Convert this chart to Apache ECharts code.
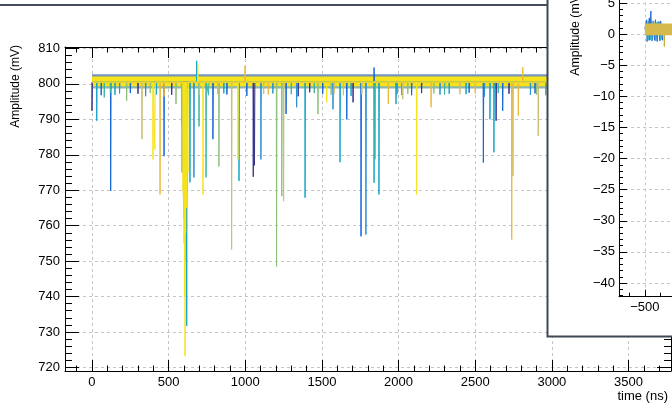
<!DOCTYPE html>
<html><head><meta charset="utf-8">
<script src="https://cdn.jsdelivr.net/npm/echarts@6/dist/echarts.min.js"></script>
<style>html,body{margin:0;padding:0;background:#fff}#c{width:672px;height:408px}</style>
</head><body><div id="c"></div>
<script>
// ---------- tick labels ----------
const xTicks = [0, 500, 1000, 1500, 2000, 2500, 3000, 3500];
const yTicks = [720, 730, 740, 750, 760, 770, 780, 790, 800, 810];
const insetXTicks = [-500, 0, 500];
const insetYTicks = [-40, -35, -30, -25, -20, -15, -10, -5, 0, 5];

// ---------- main panel data (time ns, amplitude mV) ----------
const baseline = 800.5;
const tStart = 0, tEnd = 3700;
const bandFringeTop = [801.9, 802.7];   // upper noise envelope of the waveforms
const bandFringeLow = [798.7, 799.6];   // lower noise envelope of the waveforms
const bandYellow = [799.3, 802.1];      // dense noise of the top-drawn waveform
const spikesNavy = [[0, 792.4], [1052, 773.8], [1060, 777.0], [1345, 796.5], [1703, 794.8], [2636, 789.6], [300, 797.2], [2150, 797.4], [520, 796.9], [1420, 797.6], [2720, 797.2]];
const spikesBlue = [[122, 769.8], [470, 779.6], [789, 784.4], [1266, 791.5], [1662, 790.0], [1755, 757.0], [2460, 797.5], [2553, 777.8], [2679, 792.4], [60, 796.8], [880, 797.0], [1840, 804.6], [250, 797.4], [1010, 796.6], [1505, 797.1], [2085, 796.8], [2890, 797.3]];
const spikesLightBlue = [[665, 773.6], [1102, 778.7], [1335, 793.4], [1572, 792.8], [1787, 757.5], [2270, 797.0], [180, 797.3], [1990, 797.1], [2860, 796.9], [350, 796.5], [1180, 797.3], [2560, 796.4]];
const spikesCyan = [[31, 789.6], [612, 750.0], [618, 731.7], [639, 772.2], [683, 806.5], [959, 772.6], [1390, 767.9], [1618, 777.9], [1840, 772.1], [1872, 768.8], [1983, 794.3], [2596, 790.0], [2622, 780.7], [420, 797.0], [2330, 797.2], [150, 796.9], [860, 797.3], [1690, 796.6], [2440, 797.1]];
const spikesTeal = [[588, 775.0], [600, 762.0], [698, 788.0], [744, 773.6], [1846, 778.7], [2300, 797.0], [120, 797.5], [1450, 797.4], [2960, 796.8], [80, 796.2], [760, 796.8], [1300, 797.1], [2020, 796.9], [2650, 797.4]];
const spikesGreen = [[226, 795.2], [548, 794.3], [585, 788.6], [605, 765.0], [828, 776.7], [1204, 748.5], [1238, 768.3], [1474, 791.5], [2060, 797.2], [2900, 797.0], [380, 797.4], [1560, 796.9], [2230, 797.3]];
const spikesOlive = [[326, 784.4], [911, 753.3], [1250, 766.9], [2027, 795.7], [2746, 774.0], [2911, 785.3], [1580, 797.3], [2400, 797.1], [700, 796.8], [1120, 797.2], [1760, 797.0]];
const spikesGold = [[444, 768.8], [596, 768.0], [998, 805.1], [1933, 794.3], [2212, 793.4], [2738, 756.1], [2781, 791.0], [2810, 804.7], [1150, 797.0], [2500, 797.3], [470, 796.4], [820, 797.1], [1640, 796.8]];
const spikesYellow = [[398, 778.7], [410, 781.5], [594, 770.0], [600, 755.0], [604, 740.0], [607, 723.2], [611, 758.0], [616, 765.0], [626, 775.0], [690, 805.5], [724, 768.8], [952, 778.7], [1531, 794.8], [2118, 768.8]];

// ---------- inset panel data ----------
const insetBaseline = 0.8;
const insetTStart = -500, insetTEnd = 600;
const insetBand = [-0.2, 1.7];
const insetSpikesBlue = [[-488, 2.3], [-470, 2.6], [-460, 3.7], [-445, 2.1], [-430, 2.3], [-412, 2.0], [-395, 2.1], [-485, -1.2], [-468, -1.0], [-452, -1.1], [-436, -1.0], [-418, -1.2], [-400, -1.1], [-382, -1.0]];
const insetSpikesTeal = [[-480, 2.0], [-455, 2.2], [-425, 1.9], [-405, 2.0], [-478, -1.0], [-460, -0.9], [-428, -1.1], [-392, -0.9]];
const insetSpikesGold = [[-371, -2.0], [-440, 2.0]];

// ---------- helpers ----------
const FONT = '"Liberation Sans", Arial, Helvetica, sans-serif';
function spikeLine(spikes, base, t0, t1) {
  const s = spikes.slice().sort((a, b) => a[0] - b[0]);
  const out = [[t0, base]];
  s.forEach(([t, v]) => { out.push([t - 1.5, base], [t, v], [t + 2.5, base]); });
  out.push([t1, base]);
  return out;
}
function range(a, b, step) { const r = []; for (let v = a; v <= b + 1e-9; v += step) r.push(+v.toFixed(6)); return r; }
const xMinor = range(-100, 3700, 100).filter(v => xTicks.indexOf(v) < 0);
const yMinor = range(720, 810, 2).filter(v => yTicks.indexOf(v) < 0);
const insetXMinor = range(-600, 500, 100).filter(v => insetXTicks.indexOf(v) < 0);
const insetYMinor = range(-42, 6, 1).filter(v => insetYTicks.indexOf(v) < 0);
const plain = v => String(v);
const minus = v => (v < 0 ? '\u2212' + Math.abs(v) : String(v));

const BLACK = '#000';
const GRIDLINE = { show: true, lineStyle: { color: '#c4c4c4', width: 1, type: [3, 3] } };

function axis(o) {
  return Object.assign({
    type: 'value', axisLine: { show: false, onZero: false, lineStyle: { color: BLACK, width: 1 } },
    axisLabel: { show: false }, splitLine: { show: false }
  }, o);
}

const MX = [-176, 3777], MY = [719.0, 810.4];
const IX = [-671, 500], IY = [-42.2, 7];

const xAxis = [
  axis({ gridIndex: 0, position: 'bottom', min: MX[0], max: MX[1],
    axisLine: { show: true, onZero: false, lineStyle: { color: BLACK } },
    axisTick: { show: true, inside: true, length: 11, customValues: xTicks, lineStyle: { color: BLACK } },
    axisLabel: { show: true, customValues: xTicks, formatter: plain, color: BLACK, fontSize: 13, fontFamily: FONT, margin: 5 },
    splitLine: GRIDLINE,
    name: 'time (ns)', nameLocation: 'end', nameGap: -3,
    nameTextStyle: { color: BLACK, fontSize: 13, fontFamily: FONT, align: 'right', verticalAlign: 'top', padding: [19, 0, 0, 0] } }),
  axis({ gridIndex: 0, position: 'bottom', min: MX[0], max: MX[1],
    axisTick: { show: true, inside: true, length: 5.5, customValues: xMinor, lineStyle: { color: BLACK } } }),
  axis({ gridIndex: 0, position: 'top', min: MX[0], max: MX[1],
    axisLine: { show: true, onZero: false, lineStyle: { color: BLACK } },
    axisTick: { show: true, inside: true, length: 11, customValues: xTicks, lineStyle: { color: BLACK } } }),
  axis({ gridIndex: 0, position: 'top', min: MX[0], max: MX[1],
    axisTick: { show: true, inside: true, length: 5.5, customValues: xMinor, lineStyle: { color: BLACK } } }),
  axis({ gridIndex: 1, position: 'bottom', min: IX[0], max: IX[1], z: 100,
    axisLine: { show: true, onZero: false, lineStyle: { color: BLACK } },
    axisTick: { show: true, inside: true, length: 7, customValues: insetXTicks, lineStyle: { color: BLACK } },
    axisLabel: { show: true, customValues: insetXTicks, formatter: minus, color: BLACK, fontSize: 13, fontFamily: FONT, margin: 4 },
    splitLine: GRIDLINE }),
  axis({ gridIndex: 1, position: 'bottom', min: IX[0], max: IX[1], z: 100,
    axisTick: { show: true, inside: true, length: 4, customValues: insetXMinor, lineStyle: { color: BLACK } } })
];
const yAxis = [
  axis({ gridIndex: 0, position: 'left', min: MY[0], max: MY[1],
    axisLine: { show: true, onZero: false, lineStyle: { color: BLACK } },
    axisTick: { show: true, inside: true, length: 14, customValues: yTicks, lineStyle: { color: BLACK } },
    axisLabel: { show: true, customValues: yTicks, formatter: plain, color: BLACK, fontSize: 13, fontFamily: FONT, margin: 5 },
    splitLine: GRIDLINE }),
  axis({ gridIndex: 0, position: 'left', min: MY[0], max: MY[1],
    axisTick: { show: true, inside: true, length: 7, customValues: yMinor, lineStyle: { color: BLACK } } }),
  axis({ gridIndex: 0, position: 'right', min: MY[0], max: MY[1],
    axisLine: { show: true, onZero: false, lineStyle: { color: BLACK } },
    axisTick: { show: true, inside: true, length: 14, customValues: yTicks, lineStyle: { color: BLACK } } }),
  axis({ gridIndex: 0, position: 'right', min: MY[0], max: MY[1],
    axisTick: { show: true, inside: true, length: 7, customValues: yMinor, lineStyle: { color: BLACK } } }),
  axis({ gridIndex: 1, position: 'left', min: IY[0], max: IY[1], z: 100,
    axisLine: { show: true, onZero: false, lineStyle: { color: BLACK } },
    axisTick: { show: true, inside: true, length: 8, customValues: insetYTicks, lineStyle: { color: BLACK } },
    axisLabel: { show: true, customValues: insetYTicks, formatter: minus, color: BLACK, fontSize: 13, fontFamily: FONT, margin: 4 },
    splitLine: GRIDLINE }),
  axis({ gridIndex: 1, position: 'left', min: IY[0], max: IY[1], z: 100,
    axisTick: { show: true, inside: true, length: 4, customValues: insetYMinor, lineStyle: { color: BLACK } } })
];

function lineSeries(data, color, xi, yi, z) {
  return { type: 'line', data, xAxisIndex: xi, yAxisIndex: yi, z: z, symbol: 'none', silent: true,
    animation: false, lineStyle: { color, width: 1 } };
}
function bandSeries(lohi, color, t0, t1, xi, yi, z) {
  return { type: 'line', data: [[t0, lohi[1]], [t1, lohi[1]]], xAxisIndex: xi, yAxisIndex: yi, z: z,
    symbol: 'none', silent: true, animation: false, lineStyle: { width: 0, color },
    areaStyle: { color, opacity: 1, origin: lohi[0] } };
}

const mainColors = {
  navy: '#37338c', blue: '#1466d6', lightBlue: '#2a8fd6', cyan: '#14a5c8',
  teal: '#38b5a0', green: '#8cc07a', olive: '#c9be70', gold: '#ebba3a', yellow: '#f7e31a'
};

const series = [
  bandSeries(bandFringeTop, '#7596b8', tStart, tEnd, 0, 0, 2),
  bandSeries(bandFringeLow, '#8ab6ae', tStart, tEnd, 0, 0, 2),
  lineSeries(spikeLine(spikesNavy, baseline, tStart, tEnd), mainColors.navy, 0, 0, 2),
  lineSeries(spikeLine(spikesBlue, baseline, tStart, tEnd), mainColors.blue, 0, 0, 2),
  lineSeries(spikeLine(spikesLightBlue, baseline, tStart, tEnd), mainColors.lightBlue, 0, 0, 2),
  lineSeries(spikeLine(spikesCyan, baseline, tStart, tEnd), mainColors.cyan, 0, 0, 2),
  lineSeries(spikeLine(spikesTeal, baseline, tStart, tEnd), mainColors.teal, 0, 0, 2),
  lineSeries(spikeLine(spikesGreen, baseline, tStart, tEnd), mainColors.green, 0, 0, 2),
  lineSeries(spikeLine(spikesOlive, baseline, tStart, tEnd), mainColors.olive, 0, 0, 2),
  lineSeries(spikeLine(spikesGold, baseline, tStart, tEnd), mainColors.gold, 0, 0, 2),
  bandSeries(bandYellow, mainColors.yellow, tStart, tEnd, 0, 0, 2),
  lineSeries(spikeLine(spikesYellow, baseline, tStart, tEnd), mainColors.yellow, 0, 0, 2),
  // inset
  lineSeries(spikeLine(insetSpikesBlue, insetBaseline, insetTStart, insetTEnd), '#1f6fd6', 4, 4, 101),
  lineSeries(spikeLine(insetSpikesTeal, insetBaseline, insetTStart, insetTEnd), '#2fb0c0', 4, 4, 101),
  lineSeries(spikeLine(insetSpikesGold, insetBaseline, insetTStart, insetTEnd), '#c9a83a', 4, 4, 101),
  bandSeries(insetBand, '#d6b94c', insetTStart, insetTEnd, 4, 4, 102)
];

const option = {
  animation: false,
  backgroundColor: '#fff',
  grid: [
    { left: 65, right: 1, top: 47, bottom: 37, containLabel: false, outerBoundsMode: 'none' },
    { left: 619, top: -9.5, width: 177, height: 306.2, containLabel: false, outerBoundsMode: 'none' }
  ],
  xAxis, yAxis, series,
  graphic: [
    { type: 'line', z: 90, shape: { x1: 0, y1: 5, x2: 547, y2: 5 }, style: { stroke: '#464c5c', lineWidth: 2 } },
    { type: 'rect', z: 90, shape: { x: 547.5, y: -10, width: 200, height: 346.5 }, style: { fill: '#fff', stroke: '#3f4656', lineWidth: 2 } },
    { type: 'text', z: 95, x: 16, y: 45, rotation: Math.PI / 2,
      style: { text: 'Amplitude (mV)', font: '12px ' + FONT, fill: BLACK, align: 'right', verticalAlign: 'middle' } },
    { type: 'text', z: 110, x: 576, y: -9, rotation: Math.PI / 2,
      style: { text: 'Amplitude (mV)', font: '12.3px ' + FONT, fill: BLACK, align: 'right', verticalAlign: 'middle' } }
  ]
};
const chart = echarts.init(document.getElementById('c'), null, { renderer: 'canvas' });
chart.setOption(option);
</script></body></html>
